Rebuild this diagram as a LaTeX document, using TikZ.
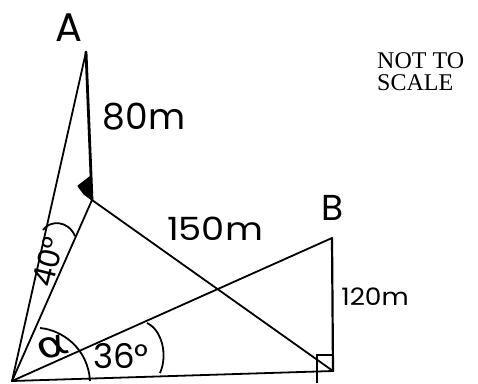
\documentclass[tikz,border=0pt]{standalone}
\usepackage{fontspec}
\setmainfont{Liberation Serif}
\newfontfamily\hand{Poppins}
\newfontfamily\greekhand{DejaVu Sans}
\begin{document}
\begin{tikzpicture}[x=1pt,y=-1pt,
  edge/.style={line width=2.2pt,line join=round,line cap=round},
  thin edge/.style={line width=1.8pt,line join=round,line cap=round},
  lbl/.style={inner sep=0pt,font=\hand},
]
\useasboundingbox (0,0) rectangle (478,383);
% points
\coordinate (O) at (12,381);
\coordinate (A) at (86,52);
\coordinate (D) at (92,200);
\coordinate (B) at (332,238);
\coordinate (C) at (333,371);
% lines
\draw[thin edge] (O) -- (A);
\draw[edge,line width=2.8pt] (A) -- (D);
\draw[thin edge] (D) -- (O);
\draw[thin edge] (O) -- (B);
\draw[edge] (B) -- (C);
\draw[thin edge] (O) -- (C);
\draw[thin edge] (D) -- (C);
% right angle marks
\filldraw[line width=1.2pt,line join=round] (91,176) -- (78,186) -- (84,194) -- (92,200) -- cycle;
\draw[line width=1.8pt] (317,383) -- (317,355) -- (333,355);
% angle arcs
\draw[line width=1.8pt] (43,230) .. controls (50,220) and (68,220) .. (75,236);
\draw[line width=1.8pt] (40,328) .. controls (62,330) and (88,348) .. (90,381);
\draw[line width=1.8pt] (147,323) .. controls (162,330) and (168,355) .. (160,373);
% labels
\node[lbl,font=\hand\fontsize{40}{40}\selectfont] (lA) at (69,28) {A};
\node[lbl,font=\hand\fontsize{36}{36}\selectfont] (lB) at (333,208) {B};
\node[lbl,font=\hand\fontsize{36}{36}\selectfont] (l80) at (144,117) {80m};
\node[lbl,font=\hand\fontsize{32}{32}\selectfont,xscale=1.15] (l150) at (215,229) {150m};
\node[lbl,font=\hand\fontsize{24}{24}\selectfont,xscale=1.1] (l120) at (375,297) {120m};
\node[lbl,font=\hand\fontsize{34}{34}\selectfont] (l36) at (121,356) {36°};
\node[lbl,font=\greekhand\fontsize{36}{36}\selectfont,xscale=1.3,rotate=20] (lalpha) at (53,347) {α};
\node[lbl,font=\hand\fontsize{30}{30}\selectfont,rotate=76] (l40) at (48,262) {40°};
\node[inner sep=0pt,anchor=north west,align=left,font=\fontsize{24}{22}\selectfont] (nts) at (377,52) {NOT TO\\SCALE};
\end{tikzpicture}
\end{document}
